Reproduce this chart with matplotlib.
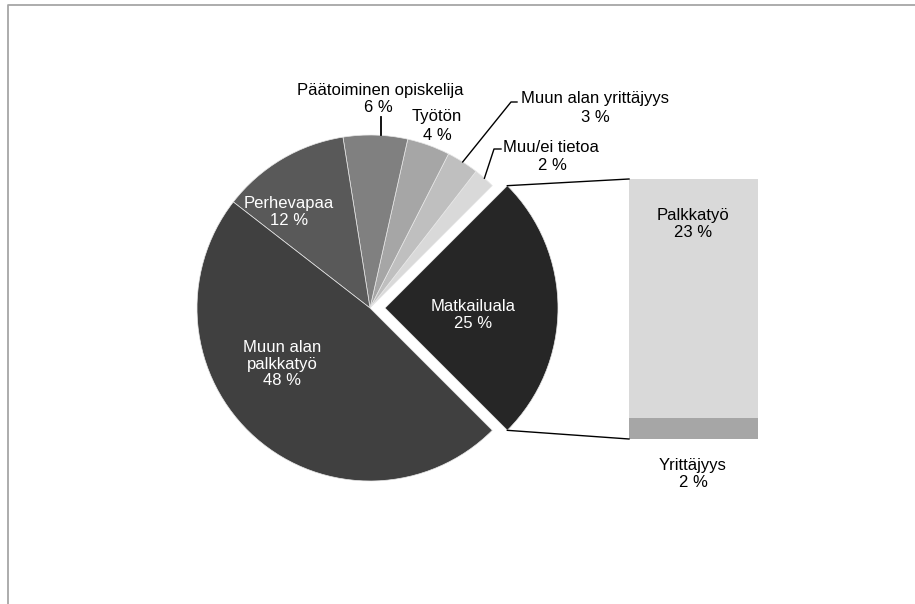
import numpy as np
import matplotlib
matplotlib.use("Agg")
import matplotlib.pyplot as plt
from matplotlib.lines import Line2D

plt.rcParams['font.family'] = ['Liberation Sans', 'DejaVu Sans']

# ---- data ----
pie_labels = ["Matkailuala", "Muu/ei tietoa", "Muun alan yrittäjyys", "Työtön",
              "Päätoiminen opiskelija", "Perhevapaa", "Muun alan\npalkkatyö"]
pie_values = [25, 2, 3, 4, 6, 12, 48]
bar_labels = ["Palkkatyö", "Yrittäjyys"]
bar_values = [23, 2]

# ---- style / layout ----
pie_colors = ["#262626", "#d9d9d9", "#bfbfbf", "#a6a6a6", "#808080", "#595959", "#404040"]
bar_colors = ["#d9d9d9", "#a6a6a6"]
W, H = 915, 604
def Y(y):
    return H - y

cx, cy, R = 370, Y(308), 173
explode_px = 15
bar_left, bar_right, bar_bottom_img, bar_top_img = 629, 758, 439, 179

fig = plt.figure(figsize=(W / 100, H / 100), dpi=100)
ax = fig.add_axes([0, 0, 1, 1])

explode = [explode_px] + [0] * (len(pie_values) - 1)
wedges, _ = ax.pie(pie_values, colors=pie_colors, startangle=-45, counterclock=True,
                   center=(cx, cy), radius=R, explode=explode, frame=True,
                   wedgeprops=dict(edgecolor="#e8e8e8", linewidth=0.5))

# angles of wedges
total = sum(pie_values)
starts = []
a = -45
for v in pie_values:
    starts.append(a)
    a += 360 * v / total

# ---- bar of pie ----
scale = (bar_bottom_img - bar_top_img) / pie_values[0]  # px per percent of the exploded slice
bar_w = bar_right - bar_left
bottom = Y(bar_bottom_img)
for lab, val, col in zip(bar_labels[::-1], bar_values[::-1], bar_colors[::-1]):
    ax.bar(bar_left + bar_w / 2, val * scale, width=bar_w, bottom=bottom, color=col,
           edgecolor="none")
    bottom += val * scale

# connector lines from exploded slice edges to bar
th1 = np.deg2rad(starts[0] + 360 * pie_values[0] / total)
th0 = np.deg2rad(starts[0])
ox = explode_px
top_pt = (cx + ox + R * np.cos(th1), cy + R * np.sin(th1))
bot_pt = (cx + ox + R * np.cos(th0), cy + R * np.sin(th0))
bar_top = Y(bar_bottom_img) + sum(bar_values) * scale
ax.add_line(Line2D([top_pt[0], bar_left], [top_pt[1], bar_top], color="black", lw=1.0))
ax.add_line(Line2D([bot_pt[0], bar_left], [bot_pt[1], Y(bar_bottom_img)], color="black", lw=1.0))

fs = 12
ls = 1.1
def pct(v):
    return f"{v} %"

# inside labels (white)
inside = {0: (473, 315), 5: (289, 212), 6: (282, 364)}
for i, (x, y) in inside.items():
    ax.text(x, Y(y), pie_labels[i] + "\n" + pct(pie_values[i]), ha="center", va="center",
            color="white", fontsize=fs, linespacing=ls)

# outside labels: name line and percent line as separate texts
outside = {4: (380, 90, 378, 107), 3: (437, 117, 437, 135),
           2: (595, 99, 595, 117), 1: (551, 148, 552, 165)}
for i, (x1, y1, x2, y2) in outside.items():
    ax.text(x1, Y(y1), pie_labels[i], ha="center", va="center", color="black", fontsize=fs)
    ax.text(x2, Y(y2), pct(pie_values[i]), ha="center", va="center", color="black", fontsize=fs)

# leader lines
def edge_pt(i):
    mid = np.deg2rad(starts[i] + 180 * pie_values[i] / total)
    return cx + R * np.cos(mid), cy + R * np.sin(mid)

# Päätoiminen: vertical line
lx = 381
ax.add_line(Line2D([lx, lx], [cy + np.sqrt(R**2 - (lx - cx) ** 2), Y(117)], color="black", lw=1.3))
# Muun alan yrittäjyys
ex, ey = edge_pt(2)
ax.add_line(Line2D([ex, 511, 517], [ey, Y(102), Y(102)], color="black", lw=1.0))
# Muu/ei tietoa
ex, ey = edge_pt(1)
ax.add_line(Line2D([ex, 494, 501], [ey, Y(149), Y(149)], color="black", lw=1.0))

# bar labels
ax.text(693, Y(224), bar_labels[0] + "\n" + pct(bar_values[0]), ha="center", va="center",
        color="black", fontsize=fs, linespacing=ls)
ax.text(693, Y(474), bar_labels[1] + "\n" + pct(bar_values[1]), ha="center", va="center",
        color="black", fontsize=fs, linespacing=ls)

# chart area border
ax.add_line(Line2D([8, 8, W + 5], [-5, Y(4.5), Y(4.5)], color="#a6a6a6", lw=1.3))

ax.set_xlim(0, W)
ax.set_ylim(0, H)
ax.set_aspect("auto")
ax.axis("off")
fig.savefig("out.png", dpi=100)
